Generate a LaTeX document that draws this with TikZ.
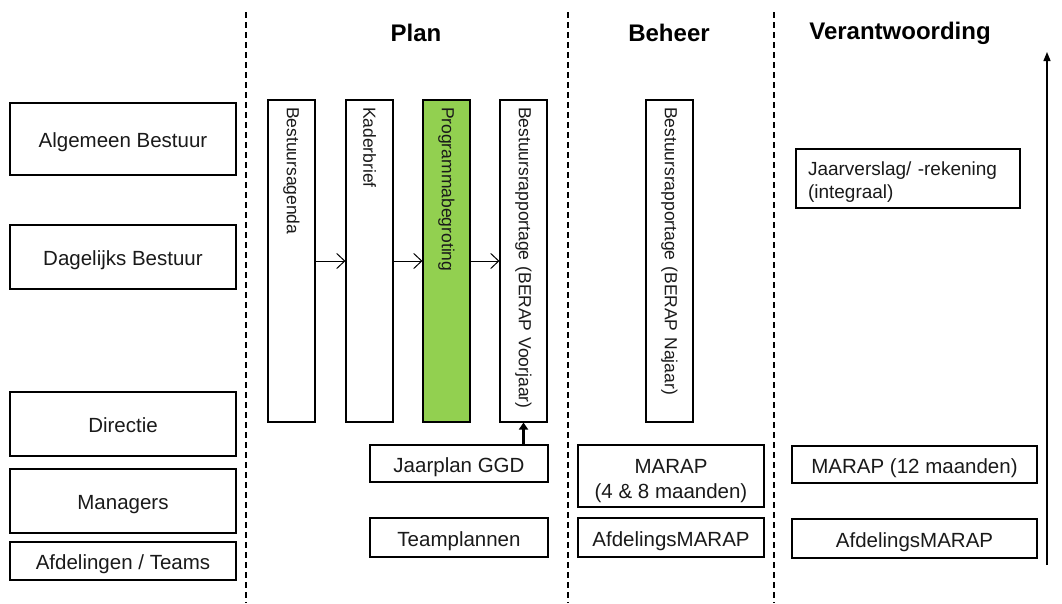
\documentclass[tikz,border=0pt]{standalone}
\usepackage{fontspec}
\setmainfont{Liberation Sans}
\usetikzlibrary{arrows.meta}
\definecolor{progGreen}{HTML}{92D050}
\definecolor{txt}{HTML}{1A1A1A}
\begin{document}
\begin{tikzpicture}[x=1pt,y=-1pt,
  box/.style={draw, line width=1.1pt, fill=white, inner sep=0pt, text=txt,
    font=\fontsize{20.5}{23}\selectfont, align=center, text height=17pt, text depth=0pt},
  tbox/.style={draw, line width=1.1pt, fill=white, inner sep=0pt, text=txt,
    font=\fontsize{20.5}{25}\selectfont, align=center},
  vbox/.style={draw, line width=1.1pt, fill=white, rotate=-90, inner ysep=0pt,
    inner xsep=7pt, text width=308pt, minimum height=47pt, align=left, text=txt,
    font=\fontsize{17.5}{20}\selectfont},
  header/.style={font=\fontsize{24}{28}\selectfont\bfseries, text=black},
  sep/.style={line width=1.2pt, dash pattern=on 6pt off 4pt},
  flow/.style={line width=1pt, -{Straight Barb[length=8pt, width=15pt, line width=1pt]}},
  feed/.style={line width=2.4pt, -{Triangle[length=7pt, width=9pt]}},
  axis/.style={line width=1.3pt, -{Triangle[length=9pt, width=7pt]}}]
\useasboundingbox (0,0) rectangle (1062,603);
\fill[white] (0,0) rectangle (1062,603);

% column separators
\coordinate (s1t) at (246,12); \coordinate (s1b) at (246,603);
\coordinate (s2t) at (568,12); \coordinate (s2b) at (568,603);
\coordinate (s3t) at (774,12); \coordinate (s3b) at (774,603);
\draw[sep] (s1t) -- (s1b);
\draw[sep] (s2t) -- (s2b);
\draw[sep] (s3t) -- (s3b);

% headers
\node[header] (hplan) at (416,33) {Plan};
\node[header] (hbeheer) at (669,33) {Beheer};
\node[header] (hverant) at (900,33) {Verantwoording};

% left: organisation levels
\node[box, minimum width=226pt, minimum height=72pt] (ab) at (123,139) {Algemeen Bestuur};
\node[box, minimum width=226pt, minimum height=64pt] (db) at (123,257) {Dagelijks Bestuur};
\node[box, minimum width=226pt, minimum height=64pt] (dir) at (123,424) {Directie};
\node[box, minimum width=226pt, minimum height=64pt] (man) at (123,501) {Managers};
\node[box, minimum width=226pt, minimum height=38pt] (afd) at (123,561) {Afdelingen / Teams};

% Plan: vertical documents
\node[vbox] (ba) at (291.5,261) {Bestuursagenda};
\node[vbox] (kb) at (369.5,261) {Kaderbrief};
\node[vbox, fill=progGreen] (pb) at (446.5,261) {Programmabegroting};
\node[vbox] (bv) at (523.5,261) {Bestuursrapportage (BERAP Voorjaar)};
\draw[flow] (ba.north) -- (kb.south);
\draw[flow] (kb.north) -- (pb.south);
\draw[flow] (pb.north) -- (bv.south);

\node[box, minimum width=178pt, minimum height=37pt] (jp) at (459,463.5) {Jaarplan GGD};
\node[box, minimum width=178pt, minimum height=39pt] (tp) at (459,537.5) {Teamplannen};
\draw[feed] (jp.north -| bv.east) -- (bv.east);

% Beheer
\node[vbox] (bn) at (669.5,261) {Bestuursrapportage (BERAP Najaar)};
\node[tbox, minimum width=186pt, minimum height=62pt] (m48) at (671,476) {MARAP\rule{0pt}{24.2pt}\\(4 \& 8 maanden)\rule[-5pt]{0pt}{5pt}};
\node[box, minimum width=186pt, minimum height=39pt] (am1) at (671,537.5) {AfdelingsMARAP};

% Verantwoording
\node[tbox, font=\fontsize{19}{23.5}\selectfont, inner xsep=12pt, text width=200pt, minimum height=59pt, align=left] (jv) at (908,178.5) {Jaarverslag/ -rekening\rule{0pt}{22pt}\\(integraal)\rule[-4.9pt]{0pt}{4.9pt}};
\node[box, minimum width=245pt, minimum height=37pt] (m12) at (914.5,464.5) {MARAP (12 maanden)};
\node[box, minimum width=245pt, minimum height=39pt] (am2) at (914.5,538.5) {AfdelingsMARAP};

% time axis
\coordinate (axb) at (1047,565);
\coordinate (axt) at (1047,52);
\draw[axis] (axb) -- (axt);
\end{tikzpicture}
\end{document}
